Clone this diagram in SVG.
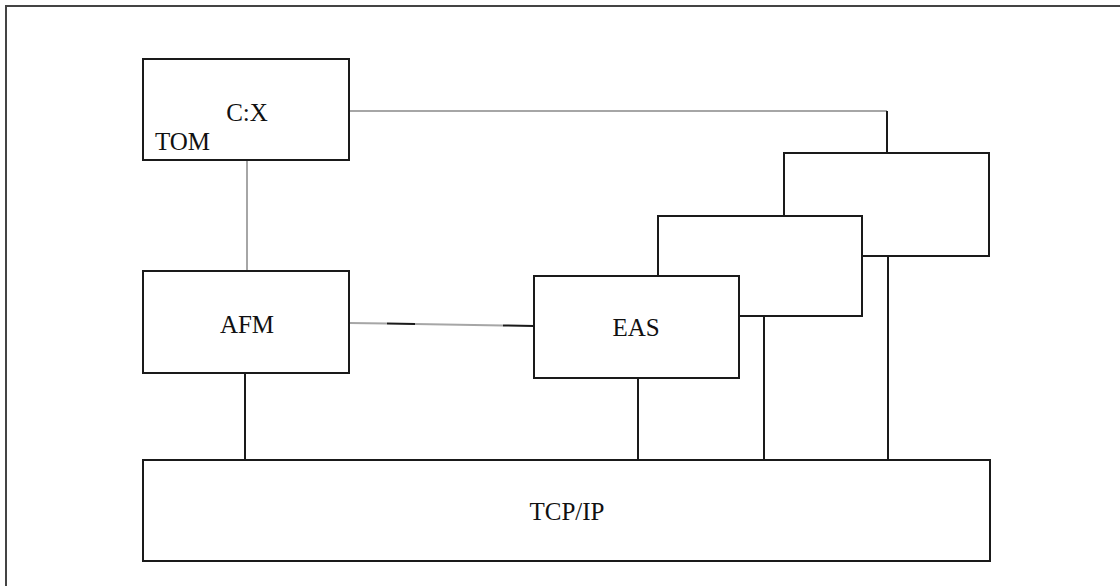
<svg xmlns="http://www.w3.org/2000/svg" width="1120" height="586" viewBox="0 0 1120 586">
<style>
.box{fill:#fff;stroke:#1a1a1a;stroke-width:2}
.ln{stroke:#1a1a1a;stroke-width:2;fill:none}
.gl{stroke:#a6a6a6;stroke-width:2;fill:none}
.t{font-family:"Liberation Serif","Times New Roman",serif;font-size:25px;fill:#111}
</style>
<rect width="1120" height="586" fill="#fff"/>
<path d="M6 586 V6 H1120" stroke="#444" stroke-width="2" fill="none"/>
<g id="connectors">
<path class="gl" d="M349 111 H887"/>
<path class="ln" d="M887 111 V153"/>
<path class="gl" d="M247 160 V271"/>
<path class="gl" d="M349 323 L387 323.5"/>
<path class="ln" d="M387 323.5 L415 324"/>
<path class="gl" d="M415 324 L503 325.5"/>
<path class="ln" d="M503 325.5 L534 326"/>
<path class="ln" d="M245 373 V461"/>
<path class="ln" d="M638 378 V460"/>
<path class="ln" d="M764 316 V460"/>
<path class="ln" d="M888 256 V460"/>
</g>
<g id="node-back"><rect class="box" x="784" y="153" width="205" height="103"/></g>
<g id="node-middle"><rect class="box" x="658" y="216" width="204" height="100"/></g>
<g id="node-eas"><rect class="box" x="534" y="276" width="205" height="102"/><text class="t" x="636" y="336" text-anchor="middle">EAS</text></g>
<g id="node-cx"><rect class="box" x="143" y="59" width="206" height="101"/><text class="t" x="247" y="121" text-anchor="middle">C:X</text><text class="t" x="155" y="150">TOM</text></g>
<g id="node-afm"><rect class="box" x="143" y="271" width="206" height="102"/><text class="t" x="247" y="333" text-anchor="middle">AFM</text></g>
<g id="node-tcpip"><rect class="box" x="143" y="460" width="847" height="101"/><text class="t" x="567" y="520" text-anchor="middle">TCP/IP</text></g>
</svg>
